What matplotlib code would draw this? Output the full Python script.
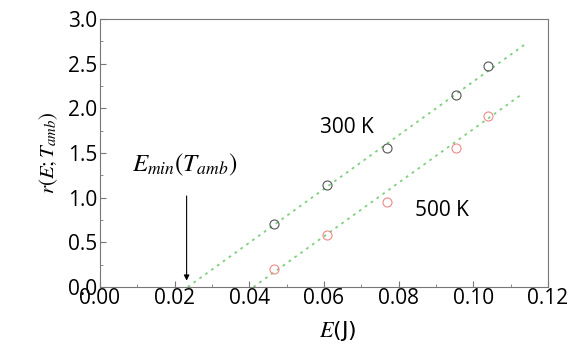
import matplotlib.pyplot as plt
from matplotlib.ticker import MultipleLocator

plt.rcParams['mathtext.fontset'] = 'stix'

energy = [0.0466, 0.0607, 0.0770, 0.0954, 0.1038]
r_300 = [0.705, 1.14, 1.56, 2.15, 2.47]
r_500 = [0.205, 0.58, 0.95, 1.56, 1.91]

# Linear fit endpoints (E, r)
fit_300_e = [0.0235, 0.1143]
fit_300_r = [0.0, 2.73]
fit_500_e = [0.0411, 0.1134]
fit_500_r = [0.0, 2.17]

e_min = 0.0232

fig = plt.figure(figsize=(5.8, 3.54), dpi=100)
ax = fig.add_axes([100 / 580, 67 / 354, 448 / 580, 268 / 354])

ax.plot(fit_300_e, fit_300_r, ls=(0, (1.5, 2.5)), color='#7fcf7f', lw=1.3)
ax.plot(fit_500_e, fit_500_r, ls=(0, (1.5, 2.5)), color='#7fcf7f', lw=1.3)
ax.plot(energy, r_300, 'o', mfc='none', mec='#555555', ms=6.5, mew=0.8)
ax.plot(energy, r_500, 'o', mfc='none', mec='#ee8a8a', ms=6.5, mew=0.8)

ax.text(0.0589, 1.78, '300 K', fontsize=15, family='Open Sans', va='center')
ax.text(0.0844, 0.86, '500 K', fontsize=15, family='Open Sans', va='center')
ax.text(0.0228, 1.37, r'$E_{min}(T_{amb})$', fontsize=18, ha='center', va='center')
ax.annotate('', xy=(e_min, 0.04), xytext=(e_min, 1.05),
            arrowprops=dict(arrowstyle='-|>', color='black', lw=0.8,
                            mutation_scale=8))

ax.set_xlim(0, 0.12)
ax.set_ylim(0, 3.0)
ax.xaxis.set_major_locator(MultipleLocator(0.02))
ax.xaxis.set_minor_locator(MultipleLocator(0.01))
ax.yaxis.set_major_locator(MultipleLocator(0.5))
ax.yaxis.set_minor_locator(MultipleLocator(0.25))
ax.set_xticklabels([f'{v:.2f}' for v in ax.get_xticks()])
ax.set_yticklabels([f'{v:.1f}' for v in ax.get_yticks()])
ax.tick_params(which='both', direction='in', top=False, right=False,
               color='#777777', labelsize=15)
ax.tick_params(which='major', length=4)
ax.tick_params(which='minor', length=2.5)
ax.tick_params(axis='x', pad=1)
ax.tick_params(axis='y', pad=2)
for lab in ax.get_xticklabels() + ax.get_yticklabels():
    lab.set_family('Open Sans')
for s in ax.spines.values():
    s.set_color('#777777')

ax.set_xlabel(r'$E$(J)', fontsize=16, labelpad=3)
ax.xaxis.set_label_coords(0.53, -0.12)
ax.set_ylabel(r'$r(E;T_{amb})$', fontsize=15, labelpad=6)

fig.savefig('out.png', dpi=100)
